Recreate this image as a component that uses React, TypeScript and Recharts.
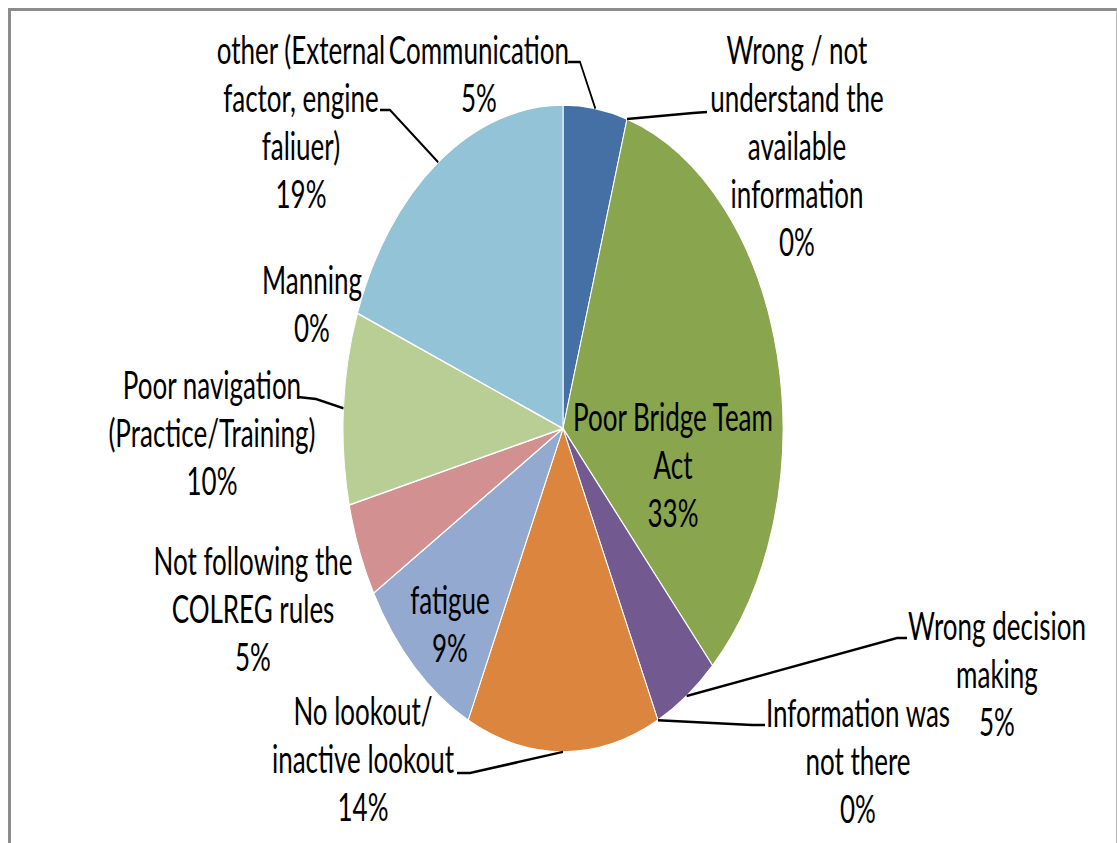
import { PieChart, Pie, Cell } from 'recharts';

const categories = [
  'Communication',
  'Wrong / not\nunderstand the\navailable\ninformation',
  'Poor Bridge Team\nAct',
  'Wrong decision\nmaking',
  'Information was\nnot there',
  'No lookout/\ninactive lookout',
  'fatigue',
  'Not following the\nCOLREG rules',
  'Poor navigation\n(Practice/Training)',
  'Manning',
  'other (External\nfactor, engine\nfaliuer)',
];
const shares = [4.7, 0, 33.4, 4.8, 0, 14.2, 9.4, 4.7, 9.6, 0, 19.2];
const colors = [
  '#4470a5', '#aa4643', '#89a54e', '#72598f', '#3d96ae', '#dc853e',
  '#93a9d0', '#d29190', '#b9ce95', '#a99bbd', '#92c3d6',
];

const data = categories.map((name, i) => ({ name, value: shares[i] }));

// the source picture is stretched vertically, so draw it flat and scale the box
const STRETCH = 1.47;
const W = 1105;
const H = 570;
const FONT = 26;
const LINE = 32.7;
const RAD = Math.PI / 180;

// centre of the first text line, and the leader's elbow and end (svg units)
const labelPos: { x: number; y: number; elbow?: number[]; end?: number[] }[] = [
  { x: 468, y: 26, elbow: [569, 34.7], end: [557, 34.7] },
  { x: 786, y: 26, elbow: [682, 69.4], end: [696, 68.7] },
  { x: 662, y: 276 },
  { x: 986, y: 417.7, elbow: [886, 426.5], end: [896, 426.5] },
  { x: 847, y: 477, elbow: [741, 485.7], end: [754, 485.7] },
  { x: 352, y: 475.6, elbow: [459, 518.4], end: [446, 518.4] },
  { x: 439, y: 400 },
  { x: 242, y: 373.5 },
  { x: 201, y: 253.8, elbow: [305, 264], end: [287, 262.6] },
  { x: 301, y: 182.4 },
  { x: 290, y: 26, elbow: [379, 67.3], end: [369, 67.3] },
];

function renderLabel(props: any) {
  const { cx, cy, midAngle, outerRadius, index, percent } = props;
  const pos = labelPos[index];
  const lines = [...data[index].name.split('\n'), `${Math.round(percent * 100)}%`];
  let leader = null;
  if (pos.elbow && pos.end) {
    const sx = cx + outerRadius * Math.cos(-midAngle * RAD);
    const sy = cy + outerRadius * Math.sin(-midAngle * RAD);
    leader = (
      <polyline
        points={`${sx},${sy} ${pos.elbow[0]},${pos.elbow[1]} ${pos.end[0]},${pos.end[1]}`}
        fill="none"
        stroke="#000"
        strokeWidth={1.7}
      />
    );
  }
  return (
    <g key={`lbl-${index}`}>
      {leader}
      {lines.map((l, i) => (
        <text
          key={i}
          x={pos.x}
          y={pos.y + i * LINE}
          textAnchor="middle"
          dominantBaseline="central"
          fontSize={FONT}
          fontFamily="Lato"
          fill="#000"
        >
          {l}
        </text>
      ))}
    </g>
  );
}

export default function App() {
  return (
    <div
      style={{
        position: 'fixed',
        left: 8,
        top: 8,
        width: 1109,
        height: 835,
        overflow: 'hidden',
        boxSizing: 'border-box',
        borderTop: '3px solid #8c8c8c',
        borderLeft: '3px solid #8c8c8c',
        borderRight: '1px solid #b4b4b4',
        background: '#fff',
      }}
    >
      <div style={{ width: W, height: H, transform: `scaleY(${STRETCH})`, transformOrigin: '0 0' }}>
        <PieChart width={W} height={H} margin={{ top: 0, right: 0, bottom: 0, left: 0 }}>
          <Pie
            data={data}
            dataKey="value"
            nameKey="name"
            cx={552}
            cy={284}
            outerRadius={220}
            startAngle={90}
            endAngle={-270}
            stroke="#fff"
            strokeWidth={1}
            label={renderLabel}
            labelLine={false}
            isAnimationActive={false}
          >
            {data.map((d, i) => (
              <Cell key={d.name} fill={colors[i]} />
            ))}
          </Pie>
        </PieChart>
      </div>
    </div>
  );
}
